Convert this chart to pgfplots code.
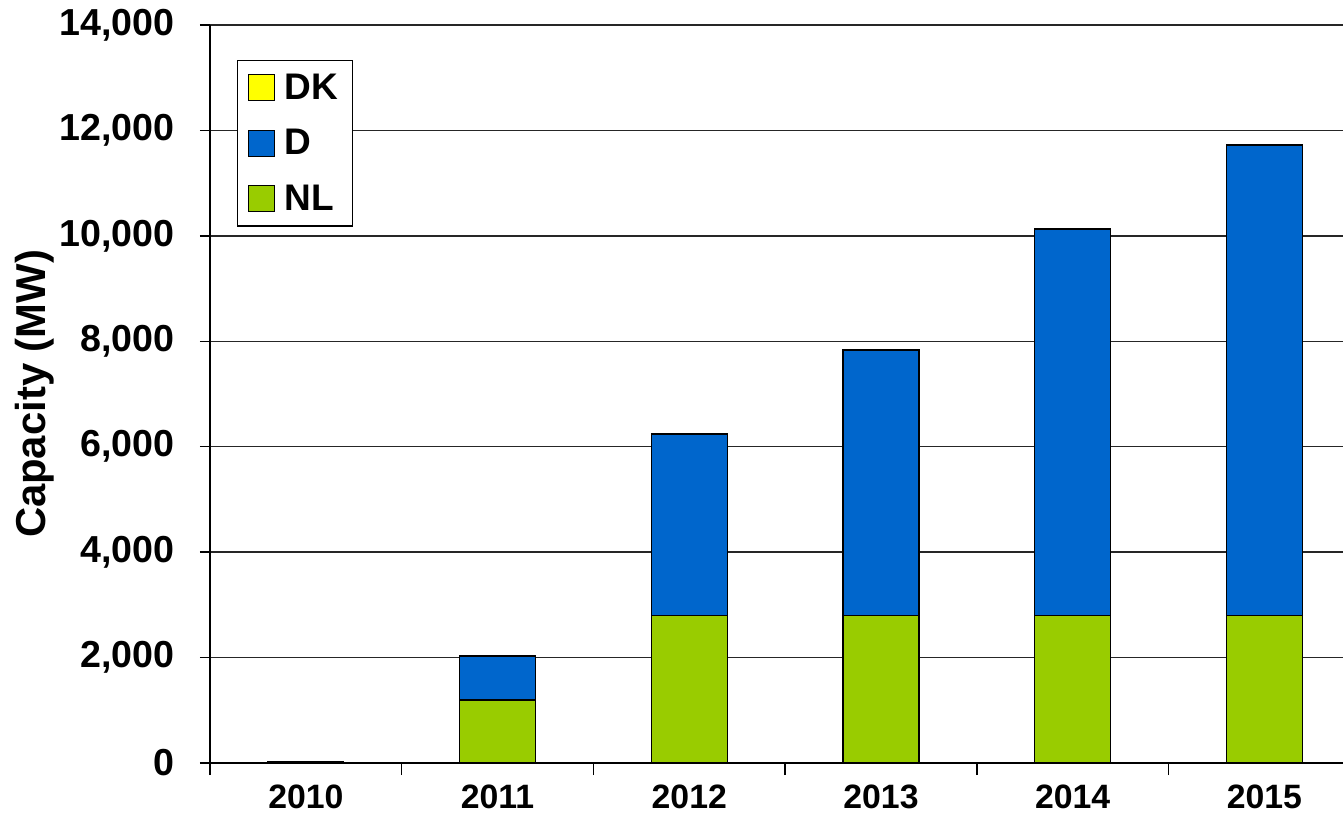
\documentclass[border=0pt]{standalone}
\usepackage{fontspec}
\setmainfont{Liberation Sans}
\usepackage{pgfplots}
\pgfplotsset{compat=1.18}
\usetikzlibrary{calc}
\definecolor{dkY}{HTML}{FFFF00}
\definecolor{dB}{HTML}{0066CC}
\definecolor{nlG}{HTML}{99CC00}
\begin{document}
\begin{tikzpicture}
\begin{axis}[name=ax, scale only axis, width=566.5pt, height=369pt,
  xmin=-0.5, xmax=5.41, ymin=0, ymax=14000,
  ybar stacked, bar width=38pt,
  axis x line*=bottom, axis y line*=left,
  axis line style={-, black, line width=1pt},
  xtick={0,1,2,3,4,5}, xticklabels={2010,2011,2012,2013,2014,2015},
  minor xtick={-0.5,0.5,1.5,2.5,3.5,4.5},
  major x tick style={draw=none},
  minor x tick style={black, line width=0.75pt},
  minor tick length=6pt,
  ytick={0,2000,...,14000},
  scaled y ticks=false,
  y tick style={black, line width=0.75pt},
  major tick length=5pt,
  tick align=outside,
  ymajorgrids, grid style={black!85, line width=0.7pt},
  /pgf/number format/assume math mode=true,
  /pgf/number format/1000 sep={,},
  yticklabel style={font=\bfseries\fontsize{18.8}{22}\selectfont, anchor=east, inner sep=0pt, xshift=-12.5pt},
  xticklabel style={font=\bfseries\fontsize{16.9}{20}\selectfont, anchor=base, inner sep=0pt, yshift=-17.5pt},
  ylabel={Capacity (MW)},
  ylabel style={font=\bfseries\fontsize{20.9}{24}\selectfont, at={(axis description cs:-0.155,0.5)}, anchor=center},
  legend reversed,
  legend style={at={(axis description cs:0.0238,0.9525)}, anchor=north west, draw=black, fill=white, line width=0.6pt,
    font=\bfseries\fontsize{18.5}{22}\selectfont, inner xsep=5pt, inner ysep=4.5pt, row sep=9.5pt,
    nodes={inner sep=2pt, anchor=west},
    /tikz/every odd column/.append style={column sep=3pt}},
  legend image code/.code={\draw[#1, line width=0.6pt] (0pt,-6.5pt) rectangle (13pt,6.5pt);},
  every axis plot/.append style={draw=black, line width=0.6pt},
]
\addplot[fill=nlG] coordinates {(0,0) (1,1195) (2,2805) (3,2805) (4,2805) (5,2805)};
\addplot[fill=dB] coordinates {(0,35) (1,835) (2,3435) (3,5030) (4,7325) (5,8920)};
\addplot[fill=dkY] coordinates {(0,0) (1,0) (2,0) (3,0) (4,0) (5,0)};
\legend{NL,D,DK}
\end{axis}
\pgfresetboundingbox
\path[use as bounding box] ($(ax.south west)+(-105pt,-25pt)$) rectangle ($(ax.north east)+(0pt,12.5pt)$);
\end{tikzpicture}
\end{document}
